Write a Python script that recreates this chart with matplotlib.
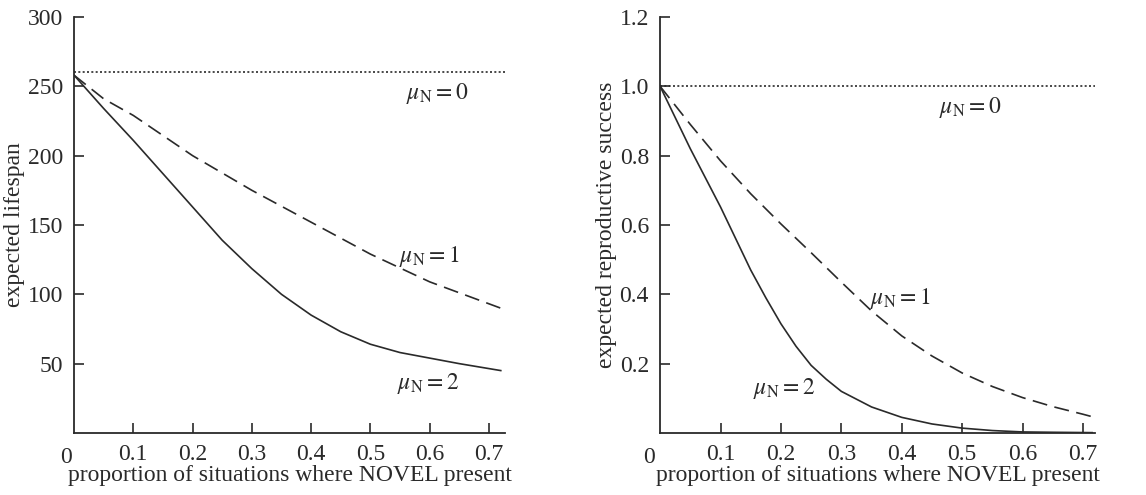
import numpy as np
import matplotlib
matplotlib.use("Agg")
import matplotlib.pyplot as plt

plt.rcParams['font.family'] = ['Liberation Serif', 'DejaVu Serif']
plt.rcParams['mathtext.fontset'] = 'stix'

# left panel: expected lifespan
life_base = 260
life_x1 = [0, 0.05, 0.1, 0.2, 0.3, 0.4, 0.5, 0.6, 0.72]
life_mu1 = [258, 241, 229, 200, 175, 152, 129, 109, 90]
life_x2 = [0, 0.05, 0.1, 0.15, 0.2, 0.25, 0.3, 0.35, 0.4, 0.45, 0.5, 0.55, 0.6, 0.65, 0.72]
life_mu2 = [258, 234, 211, 187, 163, 139, 118.5, 100, 85, 73, 64, 58, 54, 50, 45]

# right panel: expected reproductive success
rs_base = 1.0
rs_x1 = [0, 0.05, 0.1, 0.15, 0.2, 0.25, 0.3, 0.35, 0.4, 0.45, 0.5, 0.55,
         0.6, 0.65, 0.7, 0.715]
rs_mu1 = [1.0, 0.89, 0.785, 0.69, 0.603, 0.52, 0.435, 0.352, 0.28, 0.222, 0.173, 0.134,
          0.102, 0.076, 0.054, 0.047]
rs_x2 = [0, 0.05, 0.1, 0.15, 0.175, 0.2, 0.225, 0.25, 0.275, 0.3, 0.35, 0.4, 0.45,
         0.5, 0.55, 0.6, 0.65, 0.715]
rs_mu2 = [1.0, 0.82, 0.652, 0.47, 0.39, 0.315, 0.25, 0.195, 0.155, 0.12, 0.075, 0.045,
          0.026, 0.014, 0.007, 0.003, 0.002, 0.001]

xticks = [0.1, 0.2, 0.3, 0.4, 0.5, 0.6, 0.7]
xlab = 'proportion of situations where NOVEL present'
fs = 17
col = '#2a2a2a'
dash = (0, (9, 4.5))
dots = (0, (1.2, 1.4))

fig = plt.figure(figsize=(11.46, 4.95), dpi=100)
ax1 = fig.add_axes([0.0646, 0.1253, 0.376, 0.8404])
ax2 = fig.add_axes([0.576, 0.1253, 0.3796, 0.8404])


def style(ax):
    for s in ['top', 'right']:
        ax.spines[s].set_visible(False)
    for s in ['left', 'bottom']:
        ax.spines[s].set_linewidth(1.3)
        ax.spines[s].set_color(col)
    ax.tick_params(direction='in', length=7, width=1.2, labelsize=fs, colors=col, pad=8)
    ax.set_xticks(xticks)
    ax.set_xticklabels([str(t) for t in xticks])
    ax.set_xlabel(xlab, fontsize=fs, color=col, labelpad=0)


# left
ax1.axhline(life_base, color=col, ls=dots, lw=1.2)
ax1.plot(life_x1, life_mu1, color=col, ls=dash, lw=1.2)
ax1.plot(life_x2, life_mu2, color=col, ls='-', lw=1.2)
ax1.set_xlim(0, 0.727)
ax1.set_ylim(0, 300)
ax1.set_yticks([50, 100, 150, 200, 250, 300])
ax1.set_ylabel('expected lifespan', fontsize=fs, color=col, labelpad=2)
style(ax1)
ax1.text(0.612, 245, r'$\mu_{\mathrm{N}} = 0$', fontsize=fs, ha='center', va='center', color=col)
ax1.text(0.60, 127, r'$\mu_{\mathrm{N}} = 1$', fontsize=fs, ha='center', va='center', color=col)
ax1.text(0.598, 36, r'$\mu_{\mathrm{N}} = 2$', fontsize=fs, ha='center', va='center', color=col)
ax1.text(-0.018, -0.06, '0', transform=ax1.transAxes, fontsize=fs, ha='center', va='center', color=col)

# right
ax2.axhline(rs_base, color=col, ls=dots, lw=1.2)
ax2.plot(rs_x1, rs_mu1, color=col, ls=dash, lw=1.2)
ax2.plot(rs_x2, rs_mu2, color=col, ls='-', lw=1.2)
ax2.set_xlim(0, 0.72)
ax2.set_ylim(0, 1.2)
ax2.set_yticks([0.2, 0.4, 0.6, 0.8, 1.0, 1.2])
ax2.set_yticklabels(['0.2', '0.4', '0.6', '0.8', '1.0', '1.2'])
ax2.set_ylabel('expected reproductive success', fontsize=fs, color=col, labelpad=2)
style(ax2)
ax2.text(0.514, 0.94, r'$\mu_{\mathrm{N}} = 0$', fontsize=fs, ha='center', va='center', color=col)
ax2.text(0.398, 0.387, r'$\mu_{\mathrm{N}} = 1$', fontsize=fs, ha='center', va='center', color=col)
ax2.text(0.205, 0.128, r'$\mu_{\mathrm{N}} = 2$', fontsize=fs, ha='center', va='center', color=col)
ax2.text(-0.026, -0.06, '0', transform=ax2.transAxes, fontsize=fs, ha='center', va='center', color=col)

plt.savefig('out.png', dpi=100)
